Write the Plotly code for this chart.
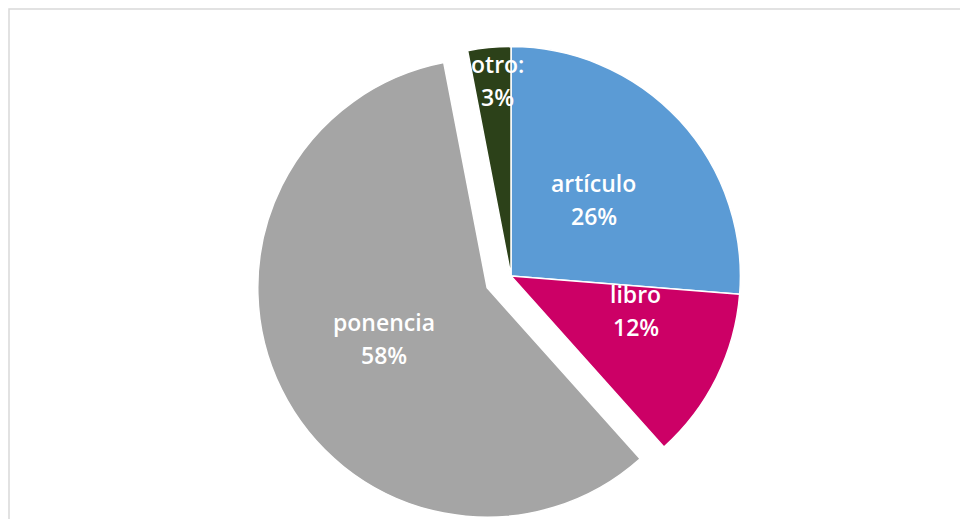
import math
import plotly.graph_objects as go

categories = ["artículo", "libro", "ponencia", "otro:"]
values = [26, 12, 58, 3]
percent_labels = ["26%", "12%", "58%", "3%"]

colors = ["#5B9BD5", "#CC0066", "#A5A5A5", "#2C4119"]
pulls = [0, 0, 0.116, 0]
# label placement (style): radial fraction and angular nudge (deg) per slice
label_frac = [0.49, 0.565, 0.50, 0.855]
label_shift = [0, -11, 0, 1.6]

W, H = 968, 532
ML, MR, MT, MB = 38, 0, 12, 8

fig = go.Figure(
    go.Pie(
        labels=categories,
        values=values,
        sort=False,
        direction="clockwise",
        rotation=0,
        pull=pulls,
        marker=dict(colors=colors, line=dict(color="white", width=1.5)),
        textinfo="none",
        showlegend=False,
        hoverinfo="label+percent",
    )
)

# geometry used by plotly for the pie (domain = full plot area)
pw, ph = W - ML - MR, H - MT - MB
R = min(pw, ph) / (2 + 2 * max(pulls))
cx, cy = ML + pw / 2, MT + ph / 2

total = sum(values)
annotations = []
start = 0.0
for i, v in enumerate(values):
    span = v / total * 360
    mid = start + span / 2
    start += span
    a = math.radians(mid)
    px = cx + pulls[i] * R * math.sin(a)
    py = cy - pulls[i] * R * math.cos(a)
    b = math.radians(mid + label_shift[i])
    lx = px + label_frac[i] * R * math.sin(b)
    ly = py - label_frac[i] * R * math.cos(b)
    for txt, dy in ((categories[i], -16.5), (percent_labels[i], 16.5)):
        annotations.append(
            dict(
                x=(lx - ML) / pw,
                y=1 - (ly + dy - MT) / ph,
                xref="paper",
                yref="paper",
                text=txt,
                showarrow=False,
                xanchor="center",
                yanchor="middle",
                font=dict(family="Open Sans", size=23, color="white", weight=600),
            )
        )

fig.update_layout(
    width=W,
    height=H,
    margin=dict(l=ML, r=MR, t=MT, b=MB),
    paper_bgcolor="white",
    plot_bgcolor="white",
    annotations=annotations,
    shapes=[
        dict(
            type="rect",
            xref="paper",
            yref="paper",
            x0=-(ML - 1) / pw,
            x1=1.05,
            y0=-0.1,
            y1=(ph + MT - 1) / ph,
            line=dict(color="#D9D9D9", width=1.5),
            fillcolor="rgba(0,0,0,0)",
            layer="below",
        )
    ],
)

fig.write_html("out.html")
